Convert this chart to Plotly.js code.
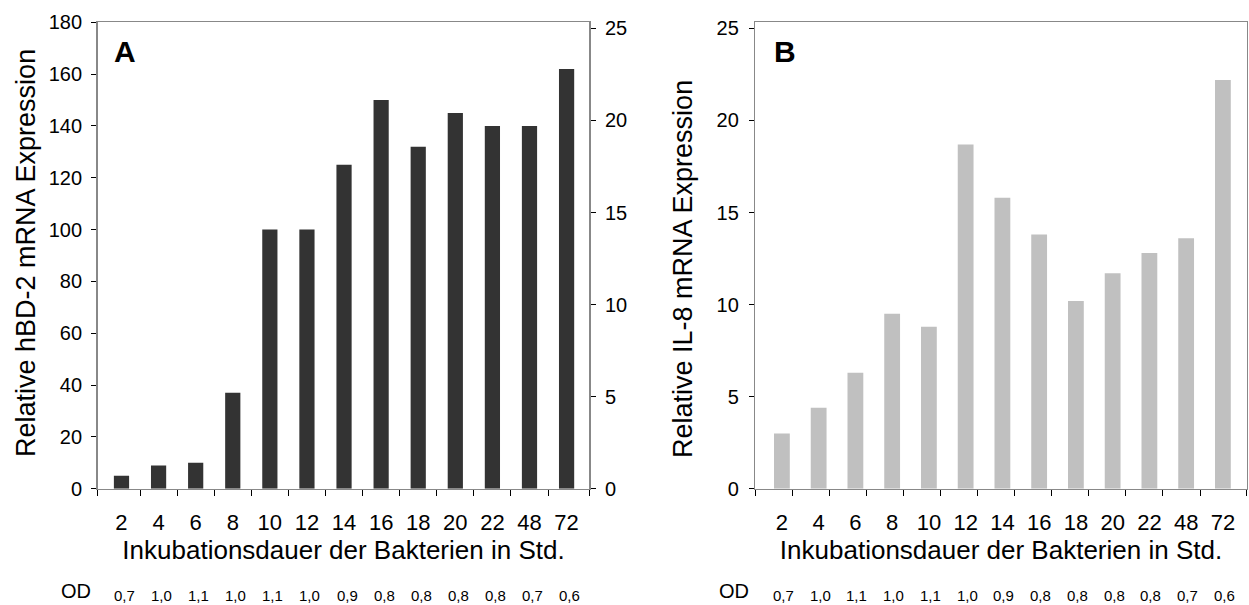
<!DOCTYPE html>
<html>
<head>
<meta charset="utf-8">
<script src="https://cdn.plot.ly/plotly-3.0.1.min.js"></script>
<style>html,body{margin:0;padding:0;background:#fff;}#chart{width:1249px;height:605px;}</style>
</head>
<body>
<div id="chart"></div>
<script>
// ---- data ----
var categories = ['2', '4', '6', '8', '10', '12', '14', '16', '18', '20', '22', '48', '72'];
var hbd2Values = [5, 9, 10, 37, 100, 100, 125, 150, 132, 145, 140, 140, 162];
var il8Values = [3.0, 4.4, 6.3, 9.5, 8.8, 18.7, 15.8, 13.8, 10.2, 11.7, 12.8, 13.6, 22.2];
var odValues = ['0,7', '1,0', '1,1', '1,0', '1,1', '1,0', '0,9', '0,8', '0,8', '0,8', '0,8', '0,7', '0,6'];
var leftTicksA = [0, 20, 40, 60, 80, 100, 120, 140, 160, 180];
var rightTicks = [0, 5, 10, 15, 20, 25];

var W = 1249, H = 605;
var FONT = 'Liberation Sans, Arial, sans-serif';
var pos = categories.map(function (c, i) { return i; });

// boundary tick marks (between the categories)
var boundA = [-0.644].concat(categories.slice(0, 12).map(function (c, i) { return i + 0.5; })).concat([12.615]);
var boundB = [-0.724].concat(categories.slice(0, 12).map(function (c, i) { return i + 0.28 + 0.009 * i; })).concat([12.648]);

var traceA = {
  type: 'bar', x: pos, y: hbd2Values, xaxis: 'x', yaxis: 'y',
  marker: {color: '#333333'}, width: 0.41, hoverinfo: 'x+y', showlegend: false
};
var traceA2 = {
  type: 'scatter', mode: 'markers', x: [], y: [], xaxis: 'x', yaxis: 'y2',
  showlegend: false, hoverinfo: 'skip'
};
var traceB = {
  type: 'bar', x: pos, y: il8Values, xaxis: 'x2', yaxis: 'y3',
  marker: {color: '#C0C0C0'}, width: 0.43, hoverinfo: 'x+y', showlegend: false
};

var lineColor = '#888888';
var tickFont = {family: FONT, size: 20, color: '#000'};
var xTickFont = {family: FONT, size: 22, color: '#000'};

function xAxis(domain, range, bounds, anchor) {
  return {
    domain: domain, anchor: anchor, type: 'linear', range: range,
    tickmode: 'array', tickvals: pos, ticktext: categories, ticks: '',
    tickfont: xTickFont, ticklabelstandoff: 13,
    showline: true, linecolor: lineColor, linewidth: 1.5, mirror: true,
    showgrid: false, zeroline: false, fixedrange: true,
    minor: {tickmode: 'array', tickvals: bounds, ticks: 'outside', ticklen: 6, tickwidth: 1, tickcolor: '#000', showgrid: false},
    title: {text: 'Inkubationsdauer der Bakterien in Std.', font: {family: FONT, size: 26, color: '#000'}, standoff: 7}
  };
}

var yDom = [1 - 488.7 / H, 1 - 22.3 / H];

var layout = {
  width: W, height: H,
  margin: {l: 0, r: 0, t: 0, b: 0},
  paper_bgcolor: '#fff', plot_bgcolor: '#fff',
  showlegend: false,
  font: {family: FONT, color: '#000'},
  xaxis: xAxis([97.6 / W, 589.4 / W], [-0.644, 12.615], boundA, 'y'),
  xaxis2: xAxis([755.3 / W, 1246.7 / W], [-0.724, 12.648], boundB, 'y3'),
  yaxis: {
    domain: yDom, anchor: 'x', range: [0, 180],
    tickmode: 'array', tickvals: leftTicksA,
    ticks: 'outside', ticklen: 5, tickcolor: '#000', tickwidth: 1,
    tickfont: tickFont, ticklabelstandoff: 5,
    showline: true, linecolor: lineColor, linewidth: 1.5,
    showgrid: false, zeroline: false, fixedrange: true
  },
  yaxis2: {
    overlaying: 'y', side: 'right', anchor: 'x', range: [0, 25.33],
    tickmode: 'array', tickvals: rightTicks,
    ticks: 'outside', ticklen: 5, tickcolor: '#000', tickwidth: 1,
    tickfont: tickFont, ticklabelstandoff: 5,
    showline: true, linecolor: lineColor, linewidth: 1.5,
    showgrid: false, zeroline: false, fixedrange: true
  },
  yaxis3: {
    domain: yDom, anchor: 'x2', range: [0, 25.33],
    tickmode: 'array', tickvals: rightTicks,
    ticks: 'outside', ticklen: 5, tickcolor: '#000', tickwidth: 1,
    tickfont: tickFont, ticklabelstandoff: 6,
    showline: true, linecolor: lineColor, linewidth: 1.5, mirror: true,
    showgrid: false, zeroline: false, fixedrange: true
  },
  annotations: []
};

var ann = layout.annotations;
// y-axis titles
ann.push({xref: 'paper', yref: 'paper', x: 26 / W, y: 1 - 253 / H, text: 'Relative hBD-2 mRNA Expression',
  textangle: -90, showarrow: false, xanchor: 'center', yanchor: 'middle', font: {family: FONT, size: 27, color: '#000'}});
ann.push({xref: 'paper', yref: 'paper', x: 683 / W, y: 1 - 269 / H, text: 'Relative IL-8 mRNA Expression',
  textangle: -90, showarrow: false, xanchor: 'center', yanchor: 'middle', font: {family: FONT, size: 27, color: '#000'}});
// panel letters
ann.push({xref: 'paper', yref: 'paper', x: 124.7 / W, y: 1 - 52 / H, text: '<b>A</b>', showarrow: false,
  xanchor: 'center', yanchor: 'middle', font: {family: FONT, size: 30, color: '#000'}});
ann.push({xref: 'paper', yref: 'paper', x: 785 / W, y: 1 - 52 / H, text: '<b>B</b>', showarrow: false,
  xanchor: 'center', yanchor: 'middle', font: {family: FONT, size: 30, color: '#000'}});
// OD rows
ann.push({xref: 'paper', yref: 'paper', x: 75.6 / W, y: 1 - 591 / H, text: 'OD', showarrow: false,
  xanchor: 'center', yanchor: 'middle', font: {family: FONT, size: 20, color: '#000'}});
ann.push({xref: 'paper', yref: 'paper', x: 734 / W, y: 1 - 591 / H, text: 'OD', showarrow: false,
  xanchor: 'center', yanchor: 'middle', font: {family: FONT, size: 20, color: '#000'}});
odValues.forEach(function (v, i) {
  ann.push({xref: 'x', yref: 'paper', x: pos[i] + 0.08, y: 1 - 595 / H, text: v, showarrow: false,
    xanchor: 'center', yanchor: 'middle', font: {family: FONT, size: 15, color: '#000'}});
  ann.push({xref: 'x2', yref: 'paper', x: pos[i] + 0.04, y: 1 - 595 / H, text: v, showarrow: false,
    xanchor: 'center', yanchor: 'middle', font: {family: FONT, size: 15, color: '#000'}});
});

Plotly.newPlot('chart', [traceA, traceA2, traceB], layout, {displayModeBar: false, staticPlot: true});
</script>
</body>
</html>
